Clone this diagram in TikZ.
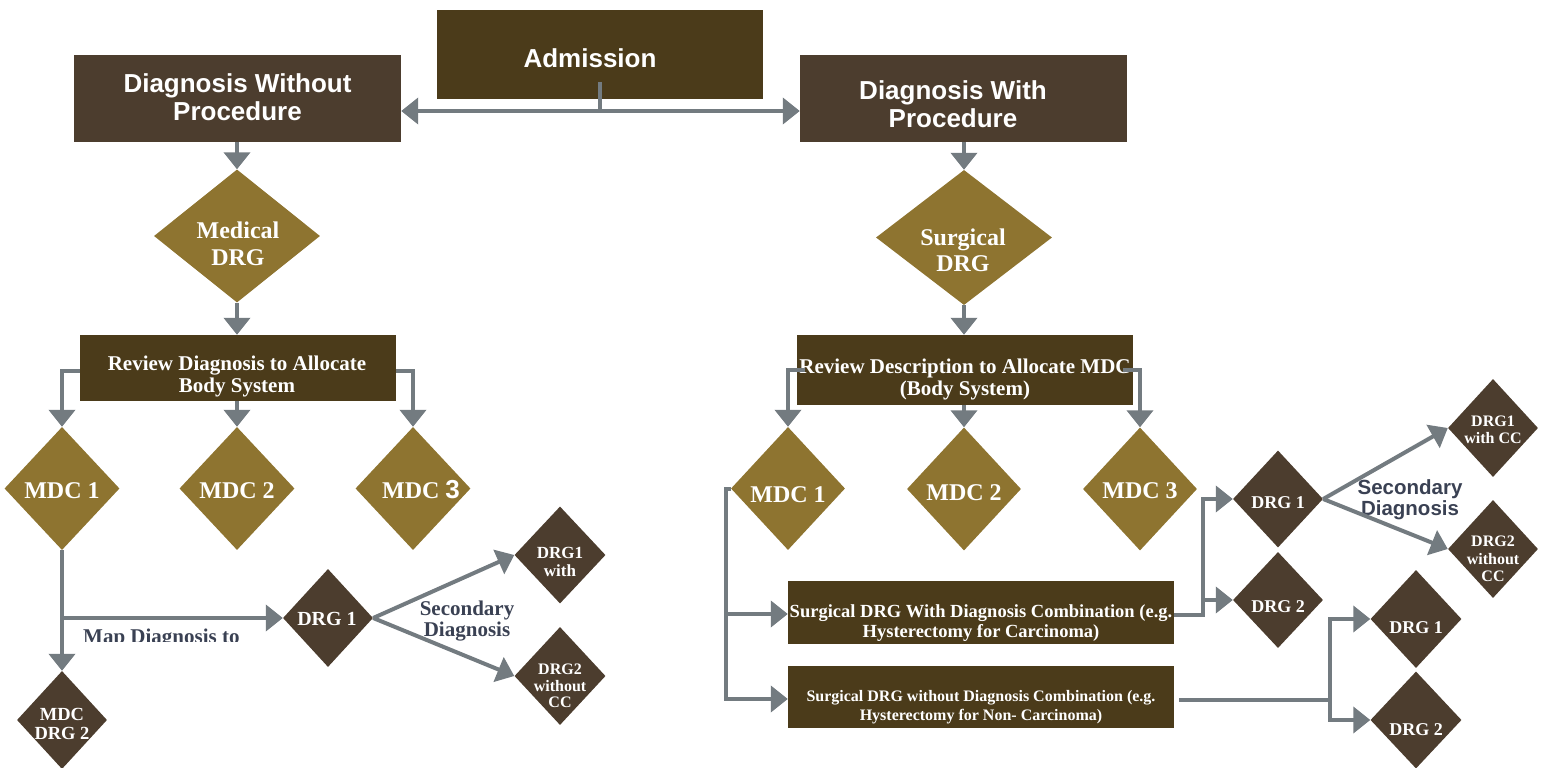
\documentclass[tikz,border=0pt]{standalone}
\usepackage{fontspec}
\newfontfamily\hel{Liberation Sans}
\newfontfamily\tim{Liberation Serif}
\usetikzlibrary{shapes.geometric,arrows.meta}
\definecolor{boxA}{HTML}{4B3B1A}
\definecolor{boxB}{HTML}{4C3D2E}
\definecolor{gold}{HTML}{8E7430}
\definecolor{agray}{HTML}{737B80}
\definecolor{slate}{HTML}{3A4153}
\newcommand\myfs[2]{\fontsize{#1}{#2}\selectfont}
\tikzset{
  rbox/.style={rectangle, inner sep=0pt, draw=none},
  gdia/.style={diamond, fill=gold, inner sep=0pt, draw=none},
  ddia/.style={diamond, fill=boxB, inner sep=0pt, draw=none, minimum width=90pt, minimum height=98pt},
  wtxt/.style={text=white, align=center, inner sep=0pt},
  ttl/.style={wtxt, font=\hel\bfseries\myfs{26}{28}},
  stxt/.style={text=slate, align=center, inner sep=0pt},
  cline/.style={draw=agray, line width=4pt},
  arr/.style={cline, -{Triangle[length=17pt,width=26pt]}},
}
\begin{document}
\begin{tikzpicture}[x=1pt,y=-1pt]
\useasboundingbox (0,0) rectangle (1548,768);

% boxes
\node[rbox, fill=boxA, minimum width=326pt, minimum height=89pt] (adm) at (600,54.5) {};
\node[rbox, fill=boxB, minimum width=327pt, minimum height=87pt] (dwo) at (237.5,98.5) {};
\node[rbox, fill=boxB, minimum width=327pt, minimum height=87pt] (dw) at (963.5,98.5) {};
\node[rbox, fill=boxA, minimum width=316pt, minimum height=66pt] (revl) at (238,368) {};
\node[rbox, fill=boxA, minimum width=336pt, minimum height=70pt] (revr) at (965,370) {};
\node[rbox, fill=boxA, minimum width=386pt, minimum height=63pt] (swith) at (981,612.5) {};
\node[rbox, fill=boxA, minimum width=386pt, minimum height=62pt] (swo) at (981,697) {};

% big diamonds
\node[gdia, minimum width=166pt, minimum height=133pt] (med) at (237,236) {};
\node[gdia, minimum width=176pt, minimum height=135pt] (surg) at (964,237.5) {};
% MDC diamonds
\node[gdia, minimum width=115pt, minimum height=123pt] (lmdc1) at (62,488.5) {};
\node[gdia, minimum width=115pt, minimum height=123pt] (lmdc2) at (237,488.5) {};
\node[gdia, minimum width=115pt, minimum height=123pt] (lmdc3) at (413,488.5) {};
\node[gdia, minimum width=114pt, minimum height=123pt] (rmdc1) at (788,488.5) {};
\node[gdia, minimum width=114pt, minimum height=123pt] (rmdc2) at (964,489) {};
\node[gdia, minimum width=114pt, minimum height=123pt] (rmdc3) at (1140,489) {};
% DRG diamonds
\node[ddia] (ldrg1) at (328,618) {};
\node[ddia] (mdd2) at (62,720) {};
\node[ddia, minimum width=91pt, minimum height=97pt] (dc1) at (560,555) {};
\node[ddia, minimum width=91pt] (dc2) at (560,676) {};
\node[ddia, minimum height=97pt] (rdrg1) at (1278,499) {};
\node[ddia, minimum height=96pt] (rdrg2) at (1278,600) {};
\node[ddia] (rc1) at (1493,428) {};
\node[ddia] (rc2) at (1493,549) {};
\node[ddia, minimum width=91pt] (ld1) at (1416,619) {};
\node[ddia, minimum width=91pt, minimum height=97pt] (ld2) at (1416,720) {};

% texts
\node[ttl] (admt) at (590,58) {Admission};
\node[ttl] (dwot) at (237.5,97) {Diagnosis Without\\Procedure};
\node[ttl] (dwt) at (953,104) {Diagnosis With\\Procedure};
\node[wtxt, font=\tim\bfseries\myfs{24}{27}] (medt) at (238,244) {Medical\\DRG};
\node[wtxt, font=\tim\bfseries\myfs{24}{26}] (surgt) at (963,250) {Surgical\\DRG};
\node[wtxt, font=\tim\bfseries\myfs{21}{22}] (revlt) at (237,376) {Review Diagnosis to Allocate\\Body System};
\node[wtxt, font=\tim\bfseries\myfs{21}{22}] (revrt) at (965,379) {Review Description to Allocate MDC\\(Body System)};
\node[wtxt, font=\tim\bfseries\myfs{18.5}{20}] (swt) at (981,623) {Surgical DRG With Diagnosis Combination (e.g.\\Hysterectomy for Carcinoma)};
\node[wtxt, font=\tim\bfseries\myfs{16}{19}] (swot) at (981,707) {Surgical DRG without Diagnosis Combination (e.g.\\Hysterectomy for Non- Carcinoma)};

\node[wtxt, font=\tim\bfseries\myfs{24}{26}] (lmdc1t) at (62,491) {MDC 1};
\node[wtxt, font=\tim\bfseries\myfs{24}{26}] (lmdc2t) at (237,491) {MDC 2};
\node[wtxt, font=\tim\bfseries\myfs{24}{26}] (lmdc3t) at (421,490) {MDC {\hel\myfs{26}{26}3}};
\node[wtxt, font=\tim\bfseries\myfs{24}{26}] (rmdc1t) at (788,495) {MDC 1};
\node[wtxt, font=\tim\bfseries\myfs{24}{26}] (rmdc2t) at (964,493) {MDC 2};
\node[wtxt, font=\tim\bfseries\myfs{24}{26}] (rmdc3t) at (1140,491) {MDC 3};

\node[wtxt, font=\tim\bfseries\myfs{20}{22}] (ldrg1t) at (327,619) {DRG 1};
\node[wtxt, font=\tim\bfseries\myfs{18.5}{19}] (mdd2t) at (62,724) {MDC\\DRG 2};
\node[wtxt, font=\tim\bfseries\myfs{17}{18}] (dc1t) at (560,562) {DRG1\\with};
\node[wtxt, font=\tim\bfseries\myfs{16}{16.5}] (dc2t) at (560,686) {DRG2\\without\\CC};
\node[wtxt, font=\tim\bfseries\myfs{18}{20}] (rdrg1t) at (1278,503) {DRG 1};
\node[wtxt, font=\tim\bfseries\myfs{18}{20}] (rdrg2t) at (1278,607) {DRG 2};
\node[wtxt, font=\tim\bfseries\myfs{16}{17}] (rc1t) at (1493,430) {DRG1\\with CC};
\node[wtxt, font=\tim\bfseries\myfs{16}{17.5}] (rc2t) at (1493,559) {DRG2\\without\\CC};
\node[wtxt, font=\tim\bfseries\myfs{18}{20}] (ld1t) at (1416,628) {DRG 1};
\node[wtxt, font=\tim\bfseries\myfs{18}{20}] (ld2t) at (1416,730) {DRG 2};

\node[stxt, font=\tim\bfseries\myfs{21}{20.5}] (sdl) at (467,621) {Secondary\\Diagnosis};
\node[stxt, font=\hel\bfseries\myfs{20.5}{21}] (sdr) at (1410,500) {Secondary\\Diagnosis};
\begin{scope}
  \clip (70,600) rectangle (260,641);
  \node[stxt, font=\tim\bfseries\myfs{21}{22}, anchor=base west] (mapt) at (83,643) {Map Diagnosis to};
\end{scope}

% connectors
\coordinate (admj) at (600,111);
\draw[cline] ([yshift=17pt]adm.south) -- (admj);
\draw[cline, {Triangle[length=17pt,width=26pt]}-{Triangle[length=17pt,width=26pt]}] (admj -| dwo.east) -- (admj -| dw.west);

\draw[arr] (dwo.south -| med.north) -- (med.north);
\draw[arr] (med.south) -- (med.south |- revl.north);
\draw[arr] ([yshift=-3pt]revl.west) -| (lmdc1.north);
\draw[arr] (revl.south -| lmdc2.north) -- (lmdc2.north);
\draw[arr] ([yshift=-3pt]revl.east) -| (lmdc3.north);

\coordinate (lj) at (62,618);
\draw[arr] (lmdc1.south) -- (mdd2.north);
\draw[arr] (lj) -- (lj -| ldrg1.west);
\draw[arr] (ldrg1.east) -- (dc1.west);
\draw[arr] (ldrg1.east) -- (dc2.west);

\draw[arr] (dw.south -| surg.north) -- (surg.north);
\draw[arr] (surg.south) -- (surg.south |- revr.north);
\draw[arr] ([xshift=8pt]revr.west) -| (rmdc1.north);
\draw[arr] (revr.south -| rmdc2.north) -- (rmdc2.north);
\draw[arr] ([xshift=-10pt]revr.east) -| (rmdc3.north);

\coordinate (rja) at (726,614);
\coordinate (rjb) at (726,699);
\draw[arr] (rmdc1.west) -| (rjb) -- (rjb -| swo.west);
\draw[arr] (rja) -- (rja -| swith.west);

\coordinate (rk) at (1203,615);
\draw[arr] (swith.east |- rk) -- (rk) |- (rdrg1.west);
\draw[arr] (rk |- rdrg2.west) -- (rdrg2.west);
\draw[arr] (rdrg1.east) -- (rc1.west);
\draw[arr] (rdrg1.east) -- (rc2.west);

\coordinate (rm) at (1330,700);
\draw[arr] ([xshift=5pt]swo.east |- rm) -- (rm) |- (ld1.west);
\draw[arr] (rm) |- (ld2.west);
\end{tikzpicture}
\end{document}
